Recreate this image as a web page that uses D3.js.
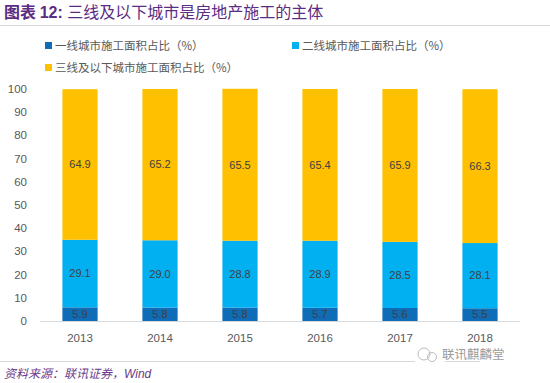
<!DOCTYPE html>
<html>
<head>
<meta charset="utf-8">
<script src="https://cdn.jsdelivr.net/npm/d3@7"></script>
<style>
  body { margin: 0; background: #fff; }
  text { font-family: "Noto Sans CJK SC", "Noto Sans", sans-serif; }
</style>
</head>
<body>
<div id="chart"></div>
<script>
let years = ['2013', '2014', '2015', '2016', '2017', '2018'];
let tier1 = [5.9, 5.8, 5.8, 5.7, 5.6, 5.5];
let tier2 = [29.1, 29.0, 28.8, 28.9, 28.5, 28.1];
let tier3 = [64.9, 65.2, 65.5, 65.4, 65.9, 66.3];
let seriesNames = ['一线城市施工面积占比（%）', '二线城市施工面积占比（%）', '三线及以下城市施工面积占比（%）'];
let colors = ['#0f6cb6', '#00b0f0', '#ffc000'];
let yTicks = [0, 10, 20, 30, 40, 50, 60, 70, 80, 90, 100];

let width = 550, height = 383;
let svg = d3.select('#chart').append('svg')
    .attr('width', width)
    .attr('height', height);

// title
let title = svg.append('text')
    .attr('x', 4).attr('y', 18)
    .attr('fill', '#5b2c83')
    .style('font-size', '16px');
title.append('tspan').text('图表 ').style('font-weight', 'bold');
title.append('tspan').text('12: ').style('font-weight', 'bold').style('font-family', 'Liberation Sans, sans-serif');
title.append('tspan').text('三线及以下城市是房地产施工的主体');

svg.append('line')
    .attr('x1', 0).attr('x2', 550).attr('y1', 25.5).attr('y2', 25.5)
    .attr('stroke', '#d8d8d8');

// legend
let legendPos = [[45, 46], [292, 46], [45, 68]];
seriesNames.forEach((name, i) => {
    let g = svg.append('g').attr('transform', `translate(${legendPos[i][0]},${legendPos[i][1]})`);
    g.append('rect').attr('x', 0).attr('y', -4).attr('width', 7).attr('height', 7).attr('fill', colors[i]);
    g.append('text').attr('x', 10).attr('y', 0).attr('dy', '0.35em')
        .attr('fill', '#595959').style('font-size', '11.5px').text(name);
});

// scales
let x = d3.scaleBand().domain(years).range([40, 520]).paddingInner(0.56).paddingOuter(0.28);
let y = d3.scaleLinear().domain([0, 100]).range([321, 89]);

// y axis labels
svg.append('g').selectAll('text')
    .data(yTicks)
    .enter().append('text')
    .attr('x', 27).attr('y', d => y(d)).attr('dy', '0.35em')
    .attr('text-anchor', 'end')
    .attr('fill', '#595959')
    .style('font-size', '11.5px')
    .style('font-family', 'Liberation Sans, sans-serif')
    .text(d => d);

// stacked bars
let rows = years.map((yr, i) => ({ year: yr, a: tier1[i], b: tier2[i], c: tier3[i] }));
let stack = d3.stack().keys(['a', 'b', 'c']);
let layers = stack(rows);

layers.forEach((layer, li) => {
    let g = svg.append('g');
    g.selectAll('rect')
        .data(layer)
        .enter().append('rect')
        .attr('x', d => x(d.data.year))
        .attr('width', x.bandwidth())
        .attr('y', d => y(d[1]))
        .attr('height', d => y(d[0]) - y(d[1]))
        .attr('fill', colors[li]);
    g.selectAll('text')
        .data(layer)
        .enter().append('text')
        .attr('x', d => x(d.data.year) + x.bandwidth() / 2)
        .attr('y', d => y((d[0] + d[1]) / 2))
        .attr('dy', '0.35em')
        .attr('text-anchor', 'middle')
        .attr('fill', '#404040')
        .style('font-size', '11px')
        .style('font-family', 'Liberation Sans, sans-serif')
        .text(d => (d[1] - d[0]).toFixed(1));
});

// x axis
svg.append('line')
    .attr('x1', 40).attr('x2', 520).attr('y1', 321.5).attr('y2', 321.5)
    .attr('stroke', '#d9d9d9');
svg.append('g').selectAll('text')
    .data(years)
    .enter().append('text')
    .attr('x', d => x(d) + x.bandwidth() / 2)
    .attr('y', 338)
    .attr('dy', '0.35em')
    .attr('text-anchor', 'middle')
    .attr('fill', '#595959')
    .style('font-size', '11.5px')
    .style('font-family', 'Liberation Sans, sans-serif')
    .text(d => d);

// footer
svg.append('line')
    .attr('x1', 0).attr('x2', 480).attr('y1', 361.5).attr('y2', 361.5)
    .attr('stroke', '#d8d8d8');
let src = svg.append('text')
    .attr('x', 4).attr('y', 378)
    .attr('fill', '#6b3a8a')
    .style('font-size', '12px')
    .style('font-style', 'italic');
src.append('tspan').text('资料来源：联讯证券，');
src.append('tspan').text('Wind').style('font-family', 'Liberation Sans, sans-serif');

// watermark
let wm = svg.append('g').attr('transform', 'translate(424,355)');
wm.append('rect').attr('x', -9).attr('y', -8).attr('width', 30).attr('height', 16).attr('fill', '#fff');
wm.append('circle').attr('cx', 0).attr('cy', -1).attr('r', 6).attr('fill', 'none').attr('stroke', '#bbb');
wm.append('circle').attr('cx', 8).attr('cy', 2).attr('r', 4.5).attr('fill', 'none').attr('stroke', '#bbb');
svg.append('text')
    .attr('x', 442).attr('y', 355).attr('dy', '0.35em')
    .attr('fill', '#9a9a9a')
    .style('font-size', '12.5px')
    .text('联讯麒麟堂');
</script>
</body>
</html>
